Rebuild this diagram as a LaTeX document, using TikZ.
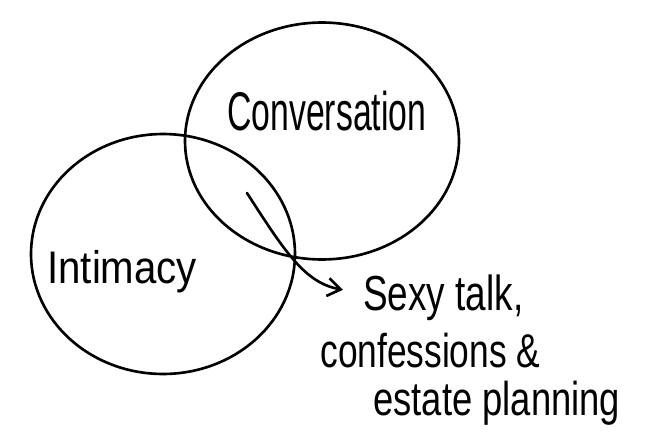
\documentclass[tikz,border=0pt]{standalone}
\usepackage{fontspec}
\setmainfont{Liberation Sans}
\usepackage{tikz}
\usetikzlibrary{arrows.meta, shapes.geometric}

\begin{document}
\begin{tikzpicture}[
  x=0.02cm, y=-0.02cm,
  set/.style={ellipse, draw=black, line width=1.5pt, inner sep=0pt, fill=none},
  hand/.style 2 args={font=\fontsize{#1}{#1}\selectfont\addfontfeatures{FakeStretch=#2},
    anchor=base west, inner sep=0pt},
  arrow/.style={-{Straight Barb[length=0.26cm, width=0.36cm]}, line width=1.5pt, line cap=round},
]
\useasboundingbox (0,0) rectangle (646,433);

% === Circles ===
\node[set, minimum width=5.48cm, minimum height=4.74cm] (conv) at (322,141) {};
\node[set, minimum width=5.28cm, minimum height=4.8cm]  (intim) at (163,254) {};

% === Labels ===
\node[hand={31pt}{0.62}] (convlbl)  at (227,130) {Conversation};
\node[hand={26pt}{0.88}] (intimlbl) at (47,283)  {Intimacy};

\node[hand={28pt}{0.75}]  (talk)    at (363,310) {Sexy talk,};
\node[hand={27pt}{0.745}] (confess) at (320,367) {confessions \&};
\node[hand={27pt}{0.767}] (estate)  at (373,415) {estate planning};

% === Arrow ===
\coordinate (start) at (247,193);
\draw[arrow] (start) .. controls (285,252) and (305,283) .. ([xshift=-0.4cm, yshift=0.15cm]talk.west);

\end{tikzpicture}
\end{document}
